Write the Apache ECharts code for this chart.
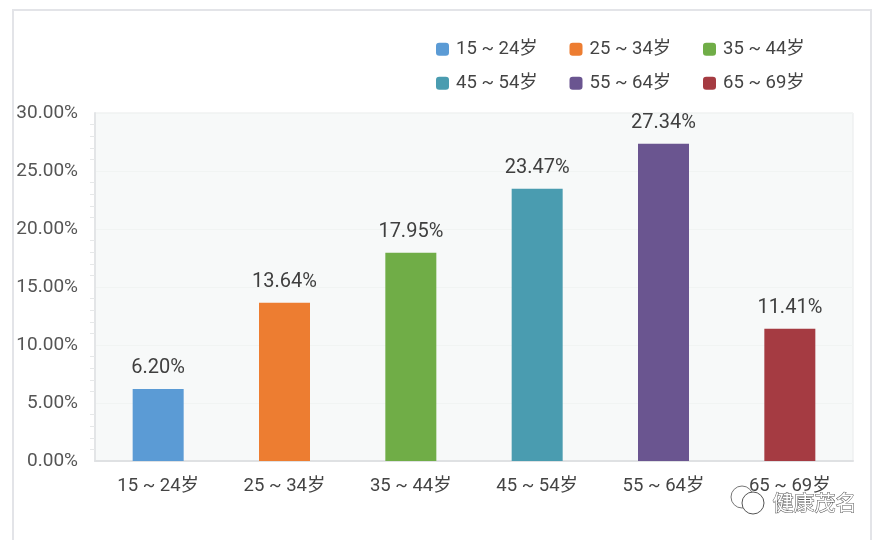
<!DOCTYPE html>
<html>
<head>
<meta charset="UTF-8">
<title>年龄分布</title>
<style>
html,body{margin:0;padding:0;background:#fff;}
#main{width:887px;height:540px;}
</style>
</head>
<body>
<div id="main"></div>
<script src="https://cdn.jsdelivr.net/npm/echarts@6/dist/echarts.min.js"></script>
<script>
var categories = ['15 ~ 24岁', '25 ~ 34岁', '35 ~ 44岁', '45 ~ 54岁', '55 ~ 64岁', '65 ~ 69岁'];
var shares = [6.20, 13.64, 17.95, 23.47, 27.34, 11.41];
var colors = ['#5b9bd5', '#ed7d31', '#70ad47', '#4a9cb0', '#6a5590', '#a53b42'];
var watermark = '健康茂名';

var fontFamily = 'Roboto, "Noto Sans CJK SC", sans-serif';
var chart = echarts.init(document.getElementById('main'));

// 每个年龄段一个系列，这样图例才能一项一色
var series = categories.map(function (name, i) {
    return {
        name: name,
        type: 'bar',
        stack: 'all',
        barWidth: 51,
        itemStyle: { color: colors[i] },
        label: {
            show: true,
            position: 'top',
            distance: 11,
            fontSize: 20,
            fontFamily: fontFamily,
            color: '#3f3f3f',
            formatter: function (p) { return p.value.toFixed(2) + '%'; }
        },
        data: shares.map(function (v, j) { return j === i ? v : null; })
    };
});

// 图例分两行三列，每项单独定位
var legends = categories.map(function (name, i) {
    return {
        data: [name],
        left: 436 + (i % 3) * 133.5,
        top: i < 3 ? 40 : 74,
        itemWidth: 13,
        itemHeight: 13,
        itemGap: 0,
        padding: 0,
        selectedMode: false,
        textStyle: { fontSize: 18.5, fontFamily: fontFamily, color: '#444', padding: [0, 0, 0, 2] }
    };
});

var option = {
    animation: false,
    backgroundColor: '#fff',
    legend: legends,
    grid: { left: 95, right: 34, top: 113, bottom: 79, show: true, backgroundColor: '#f7f9f9', borderColor: '#e8eaeb', borderWidth: 1 },
    xAxis: {
        type: 'category',
        data: categories,
        axisLine: { lineStyle: { color: '#dfe1e3', width: 2 } },
        axisTick: { show: false },
        axisLabel: { margin: 16, fontSize: 18.5, fontFamily: fontFamily, color: '#444', interval: 0 }
    },
    yAxis: {
        type: 'value',
        min: 0,
        max: 30,
        interval: 5,
        axisLine: { show: true, lineStyle: { color: '#e3e5e7', width: 2 } },
        axisTick: { show: false },
        minorTick: { show: true, splitNumber: 5, length: 5, lineStyle: { color: '#e6e8e9' } },
        splitLine: { show: true, lineStyle: { color: '#f1f4f3' } },
        axisLabel: {
            margin: 17,
            fontSize: 19,
            fontFamily: fontFamily,
            color: '#555',
            formatter: function (v) { return v.toFixed(2) + '%'; }
        }
    },
    series: series,
    graphic: [
        // 外框
        { type: 'rect', silent: true, z: -1, shape: { x: 13, y: 10, width: 858, height: 560 }, style: { fill: 'none', stroke: '#e3e4e8', lineWidth: 2 } },
        // 水印
        { type: 'circle', silent: true, z: 50, shape: { cx: 742, cy: 497, r: 11 }, style: { fill: '#fff', stroke: '#777', lineWidth: 1 } },
        { type: 'circle', silent: true, z: 51, shape: { cx: 753, cy: 503, r: 11 }, style: { fill: '#fff', stroke: '#555', lineWidth: 1 } },
        { type: 'text', silent: true, z: 52, left: 772, top: 491, style: { text: watermark, fontSize: 21, fontFamily: '"Noto Sans CJK SC", sans-serif', fill: '#fff', stroke: '#555', lineWidth: 1 } }
    ]
};

chart.setOption(option);
</script>
</body>
</html>
